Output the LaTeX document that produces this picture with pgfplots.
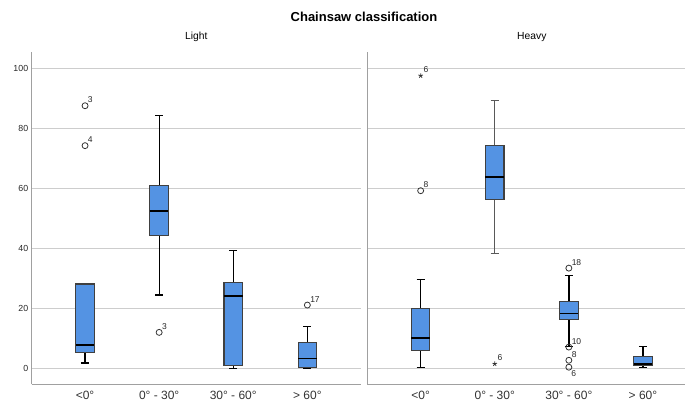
\documentclass[border=0pt]{standalone}
\usepackage{fontspec}
\setmainfont{Liberation Sans}
\usepackage{pgfplots}
\pgfplotsset{compat=1.18}
\usepgfplotslibrary{statistics}
\definecolor{boxblue}{RGB}{84,147,227}
\definecolor{gridgray}{RGB}{205,205,205}
\definecolor{axgray}{RGB}{160,160,160}
\pgfplotsset{
  panel/.style={
    scale only axis, width=329pt, height=332.6pt,
    anchor=south west,
    xmin=-0.72, xmax=3.72, ymin=-5.3, ymax=105.5,
    axis lines*=left,
    axis line style={axgray, line width=1.2pt},
    major tick length=0pt,
    ymajorgrids, grid style={gridgray, line width=0.9pt},
    xtick={0,1,2,3},
    xticklabels={{<0°},{0° - 30°},{30° - 60°},{> 60°}},
    xticklabel style={font=\fontsize{12}{14}\selectfont, yshift=-3pt, text=black!80},
    ytick={0,20,40,60,80,100},
    yticklabel style={font=\fontsize{8.8}{10}\selectfont, text=black!85},
    /pgf/number format/assume math mode=true,
    title style={at={(0.5,1)}, anchor=center, yshift=9pt, font=\fontsize{10.3}{12}\selectfont},
    boxplot/draw direction=y,
    boxplot/every box/.style={fill=boxblue, draw=black!75, line width=1.1pt},
    boxplot/every whisker/.style={black, line width=1.3pt},
    boxplot/every median/.style={black, line width=1.9pt},
    clip=false,
  },
  bx/.style={boxplot prepared={draw direction=y, #1, box extend=0.25, whisker extend=0.11}},
  outl/.style={only marks, mark=o, mark size=3pt, mark options={draw=black!80, line width=0.8pt},
    nodes near coords, point meta=explicit symbolic,
    every node near coord/.style={anchor=south west, inner sep=0pt, xshift=2.5pt, yshift=2.5pt,
      font=\fontsize{8.5}{9}\selectfont, text=black!85}},
  extr/.style={only marks, mark=star, mark size=2.4pt, mark options={draw=black!80, line width=0.8pt},
    nodes near coords, point meta=explicit symbolic,
    every node near coord/.style={anchor=south west, inner sep=0pt, xshift=2.5pt, yshift=2.5pt,
      font=\fontsize{8.5}{9}\selectfont, text=black!85}},
}
\begin{document}
\begin{tikzpicture}
\useasboundingbox (0,0) rectangle (685pt,405pt);
\node[font=\bfseries\fontsize{13}{15}\selectfont] at (364pt,388pt) {Chainsaw classification};
% Light
\begin{axis}[panel, at={(31.7pt,20.7pt)}, title={Light}]
\addplot[bx={draw position=0, lower whisker=1.8, lower quartile=5.4, median=7.8, upper quartile=28.1, upper whisker=28.1}] coordinates {};
\addplot[bx={draw position=1, lower whisker=24.4, lower quartile=44.2, median=52.4, upper quartile=60.9, upper whisker=84.2}] coordinates {};
\addplot[bx={draw position=2, lower whisker=0, lower quartile=1.1, median=24.2, upper quartile=28.5, upper whisker=39.3}] coordinates {};
\addplot[bx={draw position=3, lower whisker=0, lower quartile=0.3, median=3.3, upper quartile=8.5, upper whisker=14.0}] coordinates {};
\addplot[outl] coordinates {(0,87.5)[3] (0,74.2)[4] (1,12.0)[3] (3,21.1)[17]};
\end{axis}
% Heavy
\begin{axis}[panel, at={(367.3pt,20.7pt)}, title={Heavy}, yticklabels={}]
\addplot[bx={draw position=0, lower whisker=0.2, lower quartile=6.0, median=10.2, upper quartile=19.9, upper whisker=29.7}] coordinates {};
\addplot[bx={draw position=1, lower whisker=38.4, lower quartile=56.3, median=63.7, upper quartile=74.2, upper whisker=89.2}, boxplot/every whisker/.style={black!65, line width=1.1pt}] coordinates {};
\addplot[bx={draw position=2, lower whisker=7.3, lower quartile=16.4, median=18.3, upper quartile=22.4, upper whisker=31.0}] coordinates {};
\addplot[bx={draw position=3, lower whisker=0.2, lower quartile=0.9, median=1.5, upper quartile=4.1, upper whisker=7.2}] coordinates {};
\addplot[outl] coordinates {(0,59.2)[8] (2,33.4)[18] (2,7.1)[10] (2,2.7)[8]};
\addplot[outl, every node near coord/.style={anchor=north west, inner sep=0pt, xshift=2pt, yshift=-3pt,
      font=\fontsize{8.5}{9}\selectfont, text=black!85}] coordinates {(2,0.4)[6]};
\addplot[extr] coordinates {(0,97.5)[6] (1,1.5)[6]};
\end{axis}
\end{tikzpicture}
\end{document}
